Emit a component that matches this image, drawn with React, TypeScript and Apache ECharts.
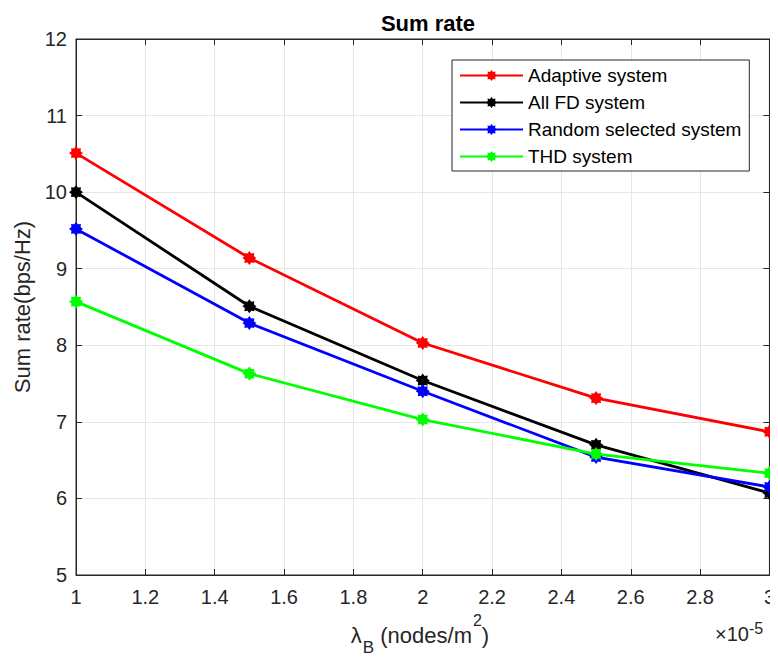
import React, { useEffect, useRef } from "react";
import * as echarts from "echarts";

const xValues = [1, 1.5, 2, 2.5, 3];
const adaptive = [10.51, 9.14, 8.03, 7.31, 6.87];
const allFD = [10.0, 8.51, 7.54, 6.7, 6.07];
const randomSel = [9.52, 8.29, 7.4, 6.54, 6.15];
const thd = [8.57, 7.63, 7.03, 6.58, 6.33];
const seriesNames = ["Adaptive system", "All FD system", "Random selected system", "THD system"];
const seriesColors = ["#ff0000", "#000000", "#0000ff", "#00ff00"];

function starPath(): string {
  const pts: string[] = [];
  const n = 8;
  for (let i = 0; i < n * 2; i++) {
    const r = i % 2 === 0 ? 10 : 7;
    const a = (Math.PI * i) / n - Math.PI / 2;
    pts.push(`${(10 + r * Math.cos(a)).toFixed(2)} ${(10 + r * Math.sin(a)).toFixed(2)}`);
  }
  return "path://M" + pts.join(" L") + " Z";
}
const STAR = starPath();

export default function App() {
  const ref = useRef<HTMLDivElement>(null);
  useEffect(() => {
    if (!ref.current) return;
    const chart = echarts.init(ref.current, undefined, { renderer: "svg" });
    const font = "'Liberation Sans', Arial, Helvetica, sans-serif";
    const datasets = [adaptive, allFD, randomSel, thd];
    const series = datasets.map((d, i) => ({
      name: seriesNames[i],
      type: "line",
      data: xValues.map((x, j) => [x, d[j]]),
      symbol: STAR,
      symbolSize: 14,
      showAllSymbol: true,
      clip: false,
      lineStyle: { color: seriesColors[i], width: 2.8 },
      itemStyle: { color: seriesColors[i] },
      xAxisIndex: 0,
      yAxisIndex: 0,
    }));
    const axisColor = "#262626";
    chart.setOption({
      animation: false,
      backgroundColor: "#ffffff",
      textStyle: { fontFamily: font },
      title: {
        text: "Sum rate",
        left: 423,
        textAlign: "center",
        top: 7,
        textStyle: { fontSize: 22, fontWeight: "bold", color: "#000", fontFamily: font },
      },
      grid: {
        left: 76,
        right: 7,
        top: 39,
        bottom: 86,
        show: true,
        borderColor: axisColor,
        borderWidth: 1,
        backgroundColor: "#ffffff",
      },
      legend: {
        orient: "vertical",
        left: 452,
        top: 60,
        padding: [6, 8, 5, 7],
        itemWidth: 63,
        itemHeight: 14,
        itemGap: 8,
        borderColor: axisColor,
        borderWidth: 1,
        backgroundColor: "#ffffff",
        data: seriesNames,
        textStyle: { fontSize: 19, color: "#000", fontFamily: font },
      },
      xAxis: [
        {
          type: "value",
          min: 1,
          max: 3,
          interval: 0.2,
          axisLine: { show: true, lineStyle: { color: axisColor, width: 1 } },
          axisTick: { show: true, inside: true, length: 6, lineStyle: { color: axisColor } },
          axisLabel: {
            fontSize: 20,
            color: axisColor,
            margin: 12,
            fontFamily: font,
            formatter: (v: number) => String(Math.round(v * 10) / 10),
          },
          splitLine: { show: true, lineStyle: { color: "#e6e6e6", width: 1 } },
        },
        {
          type: "value",
          position: "top",
          min: 1,
          max: 3,
          interval: 0.2,
          axisLine: { show: true, lineStyle: { color: axisColor } },
          axisTick: { show: true, inside: true, length: 6, lineStyle: { color: axisColor } },
          axisLabel: { show: false },
          splitLine: { show: false },
        },
      ],
      yAxis: [
        {
          type: "value",
          min: 5,
          max: 12,
          interval: 1,
          name: "Sum rate(bps/Hz)",
          nameLocation: "middle",
          nameGap: 41,
          nameTextStyle: { fontSize: 22, color: axisColor, fontFamily: font },
          axisLine: { show: true, lineStyle: { color: axisColor, width: 1 } },
          axisTick: { show: true, inside: true, length: 6, lineStyle: { color: axisColor } },
          axisLabel: { fontSize: 20, color: axisColor, margin: 9, fontFamily: font },
          splitLine: { show: true, lineStyle: { color: "#e6e6e6", width: 1 } },
        },
        {
          type: "value",
          position: "right",
          min: 5,
          max: 12,
          interval: 1,
          axisLine: { show: true, lineStyle: { color: axisColor } },
          axisTick: { show: true, inside: true, length: 6, lineStyle: { color: axisColor } },
          axisLabel: { show: false },
          splitLine: { show: false },
        },
      ],
      graphic: [
        {
          type: "text",
          x: 420,
          y: 612,
          style: {
            text: "{p0|}{l|λ}{s|B}{t| (nodes/m}{p|2}{t|)}",
            fontSize: 22,
            fontFamily: font,
            fill: axisColor,
            align: "center",
            verticalAlign: "top",
            rich: {
              p0: { fontSize: 16, fontFamily: font, fill: axisColor, verticalAlign: "top", padding: [0, 0, 0, 0] },
              l: { fontSize: 22, fontFamily: font, fill: axisColor, verticalAlign: "top", padding: [12, 0, 0, 0] },
              s: { fontSize: 17, fontFamily: font, fill: axisColor, verticalAlign: "top", padding: [27, 0, 0, 1] },
              t: { fontSize: 22, fontFamily: font, fill: axisColor, verticalAlign: "top", padding: [12, 0, 0, 0] },
              p: { fontSize: 16, fontFamily: font, fill: axisColor, verticalAlign: "top", padding: [0, 0, 0, 1] },
            },
          },
        },
        {
          type: "text",
          x: 715,
          y: 620,
          style: {
            text: "{a|×10}{b|-5}",
            fontSize: 20,
            fontFamily: font,
            fill: axisColor,
            verticalAlign: "top",
            rich: {
              a: { fontSize: 20, fontFamily: font, fill: axisColor, verticalAlign: "top", padding: [4, 0, 0, 0] },
              b: { fontSize: 16, fontFamily: font, fill: axisColor, verticalAlign: "top", padding: [0, 0, 0, 0] },
            },
          },
        },
      ],
      series,
    });
    return () => chart.dispose();
  }, []);
  return <div ref={ref} style={{ width: 778, height: 661, margin: -8 }} />;
}
